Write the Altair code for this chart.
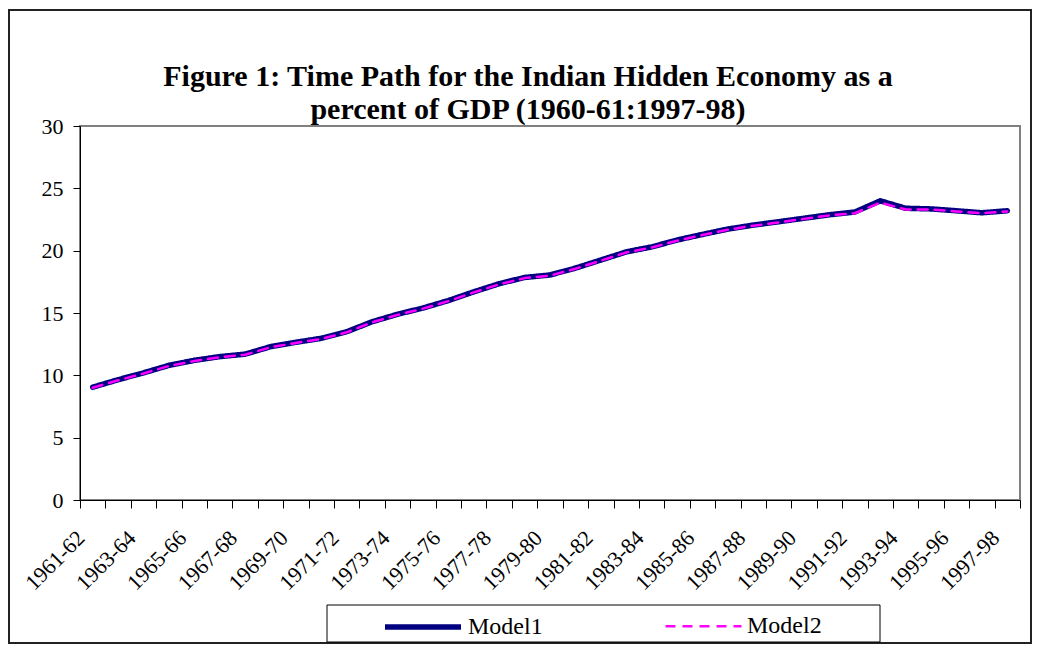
import altair as alt
import pandas as pd

periods = ["1961-62", "1962-63", "1963-64", "1964-65", "1965-66", "1966-67", "1967-68",
           "1968-69", "1969-70", "1970-71", "1971-72", "1972-73", "1973-74", "1974-75",
           "1975-76", "1976-77", "1977-78", "1978-79", "1979-80", "1980-81", "1981-82",
           "1982-83", "1983-84", "1984-85", "1985-86", "1986-87", "1987-88", "1988-89",
           "1989-90", "1990-91", "1991-92", "1992-93", "1993-94", "1994-95", "1995-96",
           "1996-97", "1997-98"]

model1 = [9.05, 9.65, 10.2, 10.8, 11.2, 11.5, 11.7, 12.3, 12.65, 12.97, 13.5, 14.3, 14.9,
          15.4, 16.0, 16.7, 17.35, 17.85, 18.05, 18.6, 19.25, 19.9, 20.3, 20.85, 21.3,
          21.73, 22.05, 22.32, 22.6, 22.88, 23.1, 24.0, 23.4, 23.35, 23.2, 23.04, 23.2]

model2 = [9.0, 9.6, 10.15, 10.75, 11.15, 11.45, 11.65, 12.25, 12.6, 12.92, 13.45, 14.25, 14.85,
          15.35, 15.95, 16.65, 17.3, 17.8, 18.0, 18.55, 19.2, 19.85, 20.25, 20.8, 21.25,
          21.68, 22.0, 22.27, 22.55, 22.83, 23.0, 23.85, 23.3, 23.3, 23.15, 23.0, 23.15]

series_names = ["Model1", "Model2"]

rows = []
for p, a, b in zip(periods, model1, model2):
    rows.append({"period": p, "series": series_names[0], "value": a})
    rows.append({"period": p, "series": series_names[1], "value": b})
df = pd.DataFrame(rows)

FONT = "Liberation Serif"

legend_opts = dict(title=None, orient="none", direction="horizontal",
                   legendX=302, legendY=460, symbolType="stroke",
                   symbolSize=5776, labelFontSize=24, labelOffset=4,
                   columnPadding=117, padding=0,
                   labelFont=FONT, labelColor="black")

lines = alt.Chart(df).mark_line(strokeCap="round", strokeJoin="round").encode(
    x=alt.X("period:N", sort=periods, bandPosition=0.5,
            scale=alt.Scale(type="band", paddingInner=0, paddingOuter=0),
            axis=alt.Axis(title=None, tickBand="extent", labelAngle=-45,
                          labelAlign="right", labelBaseline="middle",
                          labelOverlap=False, labelFontSize=22, labelPadding=26,
                          labelOffset=-12,
                          labelFont=FONT, labelColor="black", grid=False,
                          domainColor="black", tickColor="black",
                          labelExpr="toNumber(substring(datum.value,0,4)) % 2 == 1 ? datum.value : ''",
                          tickSize=8)),
    y=alt.Y("value:Q", scale=alt.Scale(domain=[0, 30], nice=False, zero=True),
            axis=alt.Axis(title=None, values=[0, 5, 10, 15, 20, 25, 30],
                          labelFontSize=22, tickSize=7, labelPadding=10,
                          labelFont=FONT, labelColor="black", grid=False,
                          domainColor="black", tickColor="black")),
    color=alt.Color("series:N", sort=series_names,
                    scale=alt.Scale(domain=series_names, range=["#000080", "#FF00FF"]),
                    legend=alt.Legend(**legend_opts)),
    strokeDash=alt.StrokeDash("series:N", sort=series_names,
                              scale=alt.Scale(domain=series_names, range=[[1, 0], [10, 7]]),
                              legend=alt.Legend(**legend_opts)),
    strokeWidth=alt.StrokeWidth("series:N", sort=series_names,
                                scale=alt.Scale(domain=series_names, range=[5.5, 2.5]),
                                legend=alt.Legend(**legend_opts)),
    order=alt.Order("series:N"),
)

frame = alt.Chart(pd.DataFrame({"k": [0]})).mark_rect(filled=False, stroke="#222222", strokeWidth=2).encode(
    x=alt.value(-71), x2=alt.value(951), y=alt.value(-116), y2=alt.value(517)
)

box = alt.Chart(pd.DataFrame({"k": [0]})).mark_rect(filled=False, stroke="black", strokeWidth=1).encode(
    x=alt.value(247), x2=alt.value(800), y=alt.value(479), y2=alt.value(516)
)

chart = alt.layer(frame, box, lines).properties(
    width=940, height=374,
    background="white",
    title=alt.Title(["Figure 1: Time Path for the Indian Hidden Economy as a",
                     "percent of GDP (1960-61:1997-98)"],
                    font=FONT, fontSize=30, fontWeight="bold",
                    anchor="middle", dx=-22, dy=122, lineHeight=33, offset=6, color="black"),
    autosize=alt.AutoSizeParams(type="none"),
    padding={"left": 72, "top": 118, "right": 12, "bottom": 144},
).configure_view(
    stroke="#808080", strokeWidth=2
)

chart.save("out.html", embed_options={"renderer": "svg", "actions": False})
